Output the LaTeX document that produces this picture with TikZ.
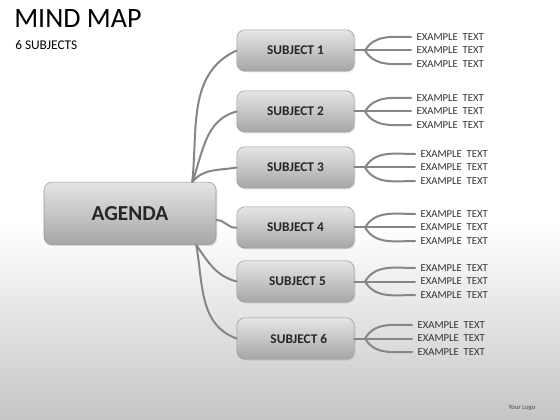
\documentclass[tikz,border=0pt]{standalone}
\usepackage{fontspec}
\setmainfont{Carlito}
\usetikzlibrary{shadows}
\begin{document}
\begin{tikzpicture}[x=0.75pt,y=-0.75pt,line cap=round]
	\tikzstyle{box}=[draw=gray!80,rounded corners=6pt,top color=gray!20,bottom color=gray!70,text=black!85,font=\bfseries,drop shadow={opacity=0.2,shadow xshift=1pt,shadow yshift=-1pt}];
	\tikzstyle{link}=[draw=gray!95,line width=1.5pt];
	\tikzstyle{leaf}=[anchor=west,inner sep=4pt,text=black!80,font=\fontsize{8}{9.5}\selectfont];

	% background
	\useasboundingbox (0,0) rectangle (560,420);
	\fill[white] (0,0) rectangle (560,225);
	\shade[top color=white,bottom color=gray!45] (0,225) rectangle (560,420);

	\node[anchor=north west,inner sep=0pt,font=\fontsize{21}{24}\selectfont] (title) at (14,9) {MIND MAP};
	\node[anchor=north west,inner sep=0pt,font=\fontsize{10}{12}\selectfont] (sub) at (15,40) {6 SUBJECTS};
	\node[inner sep=0pt,text=black!70,font=\fontsize{5}{6}\selectfont] (logo) at (522,408) {Your Logo};

	\node[box,minimum width=129pt,minimum height=47pt,font=\bfseries\fontsize{16}{18}\selectfont] (agenda) at (130,213.5) {AGENDA};

	% subjects with their branches
	\foreach \s/\y/\tx/\dx in {1/50.5/416/0,2/111.5/416/0,3/167.5/420/0,4/227.5/420/0,5/281.5/420/3,6/338.5/417/5}{
		\node[box,minimum width=88pt,minimum height=31pt,font=\bfseries\fontsize{10}{12}\selectfont] (s\s) at (295.5,\y) {\hspace*{\dx pt}SUBJECT \s};
		\coordinate (b\s) at ([xshift=8pt]s\s.east);
		\node[leaf] (t\s-1) at (\tx-5,\y-13.5) {EXAMPLE\ \ TEXT};
		\node[leaf] (t\s-2) at (\tx-5,\y) {EXAMPLE\ \ TEXT};
		\node[leaf] (t\s-3) at (\tx-5,\y+13.5) {EXAMPLE\ \ TEXT};
		\draw[link] (s\s.east) -- (b\s);
		\draw[link] (b\s) to[out=60,in=180] (t\s-1.west);
		\draw[link] (b\s) -- (t\s-2.west);
		\draw[link] (b\s) to[out=-60,in=180] (t\s-3.west);
	}

	\coordinate (atop) at ([xshift=-18pt]agenda.north east);
	\coordinate (aright) at ([yshift=-5pt]agenda.east);
	\coordinate (abot) at ([xshift=-15pt]agenda.south east);
	\draw[link] (atop) to[out=84,in=205] (s1.west);
	\draw[link] (atop) to[out=70,in=195] (s2.west);
	\draw[link] (atop) to[out=50,in=190] (s3.west);
	\draw[link] (aright) to[out=5,in=190] (s4.west);
	\draw[link] (abot) to[out=-55,in=165] (s5.west);
	\draw[link] (abot) to[out=-80,in=160] (s6.west);
\end{tikzpicture}
\end{document}
